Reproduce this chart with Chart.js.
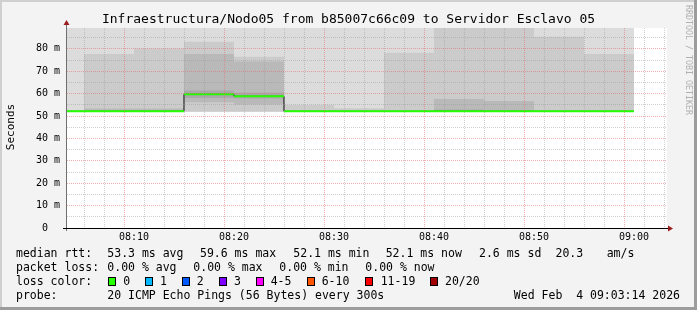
<!DOCTYPE html>
<html>
<head>
<meta charset="utf-8">
<script src="https://cdn.jsdelivr.net/npm/chart.js@4.4.1/dist/chart.umd.min.js"></script>
<style>
html,body{margin:0;padding:0;background:#f3f3f3;}
canvas{display:block;}
</style>
</head>
<body>
<canvas id="c" width="697" height="310"></canvas>
<script>
// ---- DATA (minutes after 08:00; values in ms) ----
const bucketEnds = [5, 10, 15, 20, 25, 30, 35, 40, 45, 50, 55, 60];
const medianMs   = [52.1, 52.1, 52.1, 59.7, 58.8, 52.1, 52.1, 52.1, 52.1, 52.1, 52.1, 52.1];
// smoke bands, outermost (lightest) to innermost (darkest)
const smoke1Low  = [51.9, 51.9, 51.9, 51.9, 51.9, 51.9, 51.9, 51.9, 51.9, 51.9, 51.9, 51.9];
const smoke1High = [95, 95, 95, 95, 95, 95, 95, 95, 95, 95, 95, 95];
const smoke2Low  = [null, 51.9, 51.9, 51.9, 51.9, 51.9, 51.9, 51.9, 51.9, 51.9, 51.9, 51.9];
const smoke2High = [null, 77.7, 80.2, 83.2, 76.5, 54.9, 53.5, 78.3, 95, 95, 85.4, 77.7];
const smoke3Low  = [null, 51.9, 51.9, 56.2, 55.1, null, null, null, 51.9, 51.9, null, null];
const smoke3High = [null, 53.4, 53.4, 77.7, 74.3, null, null, null, 57.6, 56.7, null, null];
const smoke4Low  = [null, null, null, 58.1, 57.8, null, null, null, 51.9, 51.9, null, null];
const smoke4High = [null, null, null, 61.4, 60.4, null, null, null, 52.9, 52.5, null, null];

const xGridMinutes = [4, 6, 8, 10, 12, 14, 16, 18, 20, 22, 24, 26, 28, 30, 32, 34, 36, 38, 40, 42, 44, 46, 48, 50, 52, 54, 56, 58, 60, 62];
const xLabelMinutes = [10, 20, 30, 40, 50, 60];
const xLabelTexts   = ['08:10', '08:20', '08:30', '08:40', '08:50', '09:00'];
const yGridValues = [0, 5, 10, 15, 20, 25, 30, 35, 40, 45, 50, 55, 60, 65, 70, 75, 80, 85];
const yLabelValues = [0, 10, 20, 30, 40, 50, 60, 70, 80];
const yLabelTexts  = ['0  ', '10 m', '20 m', '30 m', '40 m', '50 m', '60 m', '70 m', '80 m'];

const lossLabels = ['0', '1', '2', '3', '4-5', '6-10', '11-19', '20/20'];
const lossColors = ['#26ff00', '#00b8ff', '#0059ff', '#7e00ff', '#ff00ff', '#ff5500', '#ff0000', '#a00000'];

const titleText = 'Infraestructura/Nodo05 from b85007c66c09 to Servidor Esclavo 05';

// ---- build datasets ----
const MONO = '"DejaVu Sans Mono", "Liberation Mono", monospace';
function bandData(lows, highs) {
  return bucketEnds.map((e, i) => ({ x: e - 2.5, y: (lows[i] == null ? null : [lows[i], highs[i]]) }));
}
function bandDataset(lows, highs, color, order) {
  return {
    type: 'bar', data: bandData(lows, highs), backgroundColor: color, borderWidth: 0,
    grouped: false, barThickness: 50, inflateAmount: 0, order: order, clip: 0
  };
}
const stepPts = bucketEnds.map((e, i) => ({ x: e - 5, y: medianMs[i] }));
stepPts.push({ x: bucketEnds[bucketEnds.length - 1], y: medianMs[medianMs.length - 1] });
const greenPts = [];
bucketEnds.forEach((e, i) => {
  greenPts.push({ x: e - 5, y: medianMs[i] });
  greenPts.push({ x: e, y: medianMs[i] });
  greenPts.push({ x: e, y: null });
});

const datasets = [
  { type: 'line', data: greenPts, borderColor: lossColors[0], borderWidth: 2, pointRadius: 0,
    spanGaps: false, borderCapStyle: 'butt', order: 0 },
  { type: 'line', data: stepPts, borderColor: '#000000', borderWidth: 1, pointRadius: 0,
    stepped: true, order: 1 },
  bandDataset(smoke4Low, smoke4High, '#a9a9a9', 2),
  bandDataset(smoke3Low, smoke3High, '#b9b9b9', 3),
  bandDataset(smoke2Low, smoke2High, '#cbcbcb', 4),
  bandDataset(smoke1Low, smoke1High, '#dcdcdc', 5)
];

const MAJOR = 'rgba(225,110,110,0.55)';
const MINOR = 'rgba(150,150,150,0.45)';

const framePlugin = {
  id: 'frame',
  beforeDraw(chart) {
    const ctx = chart.ctx, a = chart.chartArea, W = chart.width, H = chart.height;
    ctx.save();
    ctx.fillStyle = '#f3f3f3';
    ctx.fillRect(0, 0, W, H);
    ctx.fillStyle = '#cfcfcf';
    ctx.fillRect(0, 0, W, 2);
    ctx.fillRect(0, 0, 2, H);
    ctx.fillStyle = '#9c9c9c';
    ctx.fillRect(W - 3, 0, 3, H);
    ctx.fillRect(0, H - 3, W, 3);
    ctx.fillStyle = '#ffffff';
    ctx.fillRect(a.left, a.top, a.right - a.left, a.bottom - a.top);
    ctx.restore();
  },
  afterDraw(chart) {
    const ctx = chart.ctx, a = chart.chartArea;
    ctx.save();
    // y axis
    ctx.strokeStyle = '#707070';
    ctx.lineWidth = 1;
    ctx.beginPath();
    ctx.moveTo(a.left - 0.5, a.bottom + 3);
    ctx.lineTo(a.left - 0.5, a.top - 5);
    ctx.stroke();
    // x axis
    ctx.strokeStyle = '#000000';
    ctx.beginPath();
    ctx.moveTo(a.left - 4, a.bottom + 0.5);
    ctx.lineTo(a.right + 4, a.bottom + 0.5);
    ctx.stroke();
    // arrows
    ctx.fillStyle = '#9b1c1c';
    ctx.beginPath();
    ctx.moveTo(a.left - 3.5, a.top - 3);
    ctx.lineTo(a.left + 2.5, a.top - 3);
    ctx.lineTo(a.left - 0.5, a.top - 8);
    ctx.closePath();
    ctx.fill();
    ctx.beginPath();
    ctx.moveTo(a.right + 1, a.bottom - 2.5);
    ctx.lineTo(a.right + 1, a.bottom + 3.5);
    ctx.lineTo(a.right + 6, a.bottom + 0.5);
    ctx.closePath();
    ctx.fill();

    // title
    ctx.fillStyle = '#000';
    ctx.textBaseline = 'middle';
    ctx.textAlign = 'center';
    ctx.font = '13px ' + MONO;
    ctx.fillText(titleText, 348.5, 19.5);

    // vertical axis title
    ctx.save();
    ctx.translate(11, 127);
    ctx.rotate(-Math.PI / 2);
    ctx.font = '11px ' + MONO;
    ctx.fillText('Seconds', 0, 0);
    ctx.restore();

    // watermark
    ctx.save();
    ctx.translate(688.5, 60);
    ctx.rotate(Math.PI / 2);
    ctx.fillStyle = '#b0b0b0';
    ctx.font = '8.3px ' + MONO;
    ctx.fillText('RRDTOOL / TOBI OETIKER', 0, 0);
    ctx.restore();

    // legend
    ctx.textAlign = 'left';
    ctx.fillStyle = '#000';
    ctx.font = '11.5px ' + MONO;
    const rows = [
      [254.3, [[16, 'median rtt:'], [107.3, '53.3 ms avg'], [200, '59.6 ms max'], [293.3, '52.1 ms min'],
               [385.7, '52.1 ms now'], [479, '2.6 ms sd'], [555.5, '20.3'], [606.7, 'am/s']]],
      [268.3, [[16, 'packet loss:'], [107.3, '0.00 % avg'], [193.3, '0.00 % max'], [279.3, '0.00 % min'],
               [365.3, '0.00 % now']]],
      [282, [[16, 'loss color:']]],
      [296, [[16, 'probe:'], [107.3, '20 ICMP Echo Pings (56 Bytes) every 300s']]]
    ];
    rows.forEach(([y, items]) => items.forEach(([x, t]) => ctx.fillText(t, x, y)));
    ctx.textAlign = 'right';
    ctx.fillText('Wed Feb  4 09:03:14 2026', 680, 296);
    ctx.textAlign = 'left';
    const sqX = [108.5, 145.5, 182.5, 219.5, 256.5, 307.5, 365.5, 430.5];
    const lbX = [123.3, 160, 196.7, 234, 270.7, 321.7, 380.7, 445];
    lossLabels.forEach((l, i) => {
      ctx.fillStyle = lossColors[i];
      ctx.fillRect(sqX[i], 277.5, 7, 8);
      ctx.strokeStyle = '#000';
      ctx.lineWidth = 1;
      ctx.strokeRect(sqX[i], 277.5, 7, 8);
      ctx.fillStyle = '#000';
      ctx.fillText(l, lbX[i], 282);
    });
    ctx.restore();
  }
};

new Chart(document.getElementById('c'), {
  type: 'bar',
  data: { datasets },
  options: {
    responsive: false,
    animation: false,
    devicePixelRatio: 1,
    layout: { padding: { left: 0, top: 28, right: 30, bottom: 0 } },
    plugins: { legend: { display: false }, tooltip: { enabled: false }, title: { display: false } },
    scales: {
      x: {
        type: 'linear', min: 3.3, max: 63.3, offset: false,
        afterFit: s => { s.height = 82; },
        afterBuildTicks: s => { s.ticks = xGridMinutes.map(v => ({ value: v })); },
        ticks: {
          autoSkip: false, maxRotation: 0, minRotation: 0, padding: 3, color: '#000',
          font: { family: MONO, size: 10 },
          callback: v => { const i = xLabelMinutes.indexOf(v); return i >= 0 ? xLabelTexts[i] : ''; }
        },
        grid: { z: 1, drawTicks: false, lineWidth: 1,
                color: c => (c.tick && xLabelMinutes.includes(c.tick.value)) ? MAJOR : MINOR },
        border: { display: false, dash: [1, 1] }
      },
      y: {
        type: 'linear', min: 0, max: 89.3,
        afterFit: s => { s.width = 67; },
        afterBuildTicks: s => { s.ticks = yGridValues.map(v => ({ value: v })); },
        ticks: {
          autoSkip: false, padding: 7, color: '#000',
          font: { family: MONO, size: 10 },
          callback: v => { const i = yLabelValues.indexOf(v); return i >= 0 ? yLabelTexts[i] : ''; }
        },
        grid: { z: 1, drawTicks: false, lineWidth: 1,
                color: c => (c.tick && yLabelValues.includes(c.tick.value)) ? MAJOR : MINOR },
        border: { display: false, dash: [1, 1] }
      }
    }
  },
  plugins: [framePlugin]
});
</script>
</body>
</html>
